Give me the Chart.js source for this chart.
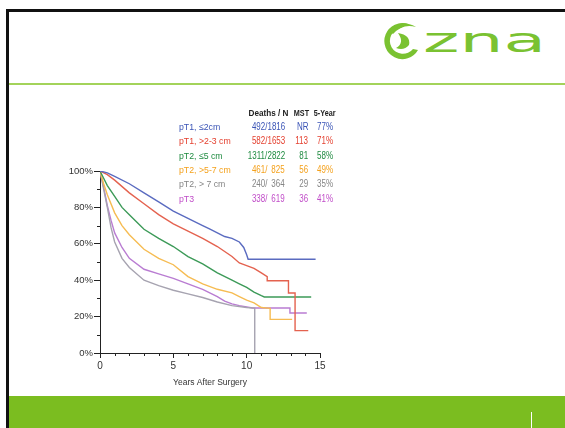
<!DOCTYPE html>
<html>
<head>
<meta charset="utf-8">
<script src="https://cdn.jsdelivr.net/npm/chart.js@4.4.1/dist/chart.umd.min.js"></script>
<style>
    body { margin: 0; background: #fff; }
    #slide { position: relative; width: 565px; height: 428px; overflow: hidden; background: #fff; font-family: "Liberation Sans Narrow", "Liberation Sans", Arial, sans-serif; }
    .borderLeft { position: absolute; left: 6px; top: 9px; width: 3px; height: 419px; background: #111; }
    .borderTop { position: absolute; left: 6px; top: 9px; width: 559px; height: 3px; background: #111; }
    .headLine { position: absolute; left: 9px; top: 83px; width: 556px; height: 2px; background: #a3d35a; }
    .footer { position: absolute; left: 9px; top: 396px; width: 556px; height: 32px; background: #7bbd20; }
    .footer .mark { position: absolute; left: 522px; top: 16px; width: 1px; height: 16px; background: #fff; }
    #logo { position: absolute; left: 370px; top: 14px; }
    #chartBox { position: absolute; left: 40px; top: 160px; width: 300px; height: 236px; }
    #table { position: absolute; left: 0; top: 0; width: 565px; height: 428px; font-size: 10px; pointer-events: none; }
    #table div { position: absolute; white-space: nowrap; line-height: 10px; transform: scaleX(0.8); transform-origin: left center; }
    #table div.r { transform-origin: right center; }
    #table div.lbl { transform: scaleX(0.92); font-size: 9.5px; }
    #table div.head { font-weight: bold; color: #222; font-size: 9.5px; transform: scaleX(0.76); }
    #table div.head.wide { transform: scaleX(0.86); }
</style>
</head>
<body>
<div id="slide">
    <div class="borderLeft"></div>
    <div class="borderTop"></div>
    <div class="headLine"></div>
    <svg id="logo" width="190" height="56" viewBox="370 14 190 56">
        <!-- 图标 -->
        <path d="M 408 24 A 18 18 0 1 0 418 50 L 413 49 A 13 13 0 1 1 401 28 Q 404 25 408 24 Z" fill="#7ac231"/>
        <path d="M 389 31 Q 400 18 416 27 Q 403 23 393 34 Z" fill="#7ac231"/>
        <path d="M 398 33 Q 411 35 409 45 Q 404 51 396 48 Q 405 43 398 33 Z" fill="#7ac231"/>
        <text x="423" y="52" textLength="123" lengthAdjust="spacingAndGlyphs" font-family="DejaVu Sans" font-size="33" fill="#7ac231">zna</text>
    </svg>
    <div id="chartBox"><canvas id="survivalChart"></canvas></div>
    <div id="table"></div>
    <div class="footer"><div class="mark"></div></div>
</div>
<script>
// 分组与表格数据
const groups = ['pT1, ≤2cm', 'pT1, >2-3 cm', 'pT2, ≤5 cm', 'pT2, >5-7 cm', 'pT2, > 7 cm', 'pT3'];
const deaths = [492, 582, 1311, 461, 240, 338];
const patients = [1816, 1653, 2822, 825, 364, 619];
const mst = ['NR', '113', '81', '56', '29', '36'];
const fiveYear = ['77%', '71%', '58%', '49%', '35%', '41%'];
const textColors = ['#3a54b6', '#e4402f', '#1f8b40', '#f4a11c', '#858585', '#c04cc8'];
const lineColors = ['#5a6bc0', '#e4624f', '#3c9a58', '#f6bc52', '#a6a3b0', '#b97cd2'];

// 生存曲线 (年, %)
const t1SmallYears = [0, 0.5, 1, 2, 3, 4, 5, 6, 7, 7.5, 8, 8.5, 9, 9.5, 9.8, 10, 10.1, 14.7];
const t1SmallSurv = [100, 99, 97, 93, 88, 83, 78, 74, 70, 68, 66, 64, 63, 61, 58, 54, 51.5, 51.5];
const t1LargeYears = [0, 0.5, 1, 2, 3, 4, 5, 6, 7, 8, 9, 9.5, 10, 10.5, 11, 11.4, 11.4, 12.85, 12.85, 13.3, 13.3, 14.2];
const t1LargeSurv = [100, 98, 95, 88, 82, 76, 71, 67, 63, 58.5, 53, 49.5, 48, 46.5, 44, 42, 39.7, 39.7, 33, 33, 12.3, 12.3];
const t2SmallYears = [0, 0.25, 0.5, 1, 1.5, 2, 2.5, 3, 4, 5, 6, 7, 7.5, 8, 9, 9.5, 10, 10.5, 11, 11.2, 14.4];
const t2SmallSurv = [100, 96, 92, 86, 80, 76, 72, 68, 63, 58.5, 53, 49, 46.5, 44, 40, 38, 36, 33.5, 31.5, 30.8, 30.8];
const t2MidYears = [0, 0.25, 0.5, 1, 1.5, 2, 3, 4, 5, 6, 7, 8, 9, 9.5, 10, 10.5, 11, 11.6, 11.6, 13.1];
const t2MidSurv = [100, 93, 87, 77, 70, 65, 57, 52, 48.5, 42, 38, 35, 33, 31, 29, 27.5, 25, 24.5, 18.5, 18.5];
const t2LargeYears = [0, 0.25, 0.5, 0.75, 1, 1.5, 2, 3, 4, 5, 6, 7, 8, 9, 10, 10.55, 10.55];
const t2LargeSurv = [100, 90, 80, 69, 61, 52, 47, 40, 37, 34.5, 32.5, 30.5, 28, 26, 25, 24.7, 0];
const t3Years = [0, 0.25, 0.5, 0.75, 1, 1.5, 2, 3, 4, 5, 6, 7, 8, 8.5, 9, 9.5, 10.4, 12.95, 12.95, 14.1];
const t3Surv = [100, 91, 81, 73, 66, 58, 52, 46, 43.5, 41, 38, 35, 31, 28.5, 27, 26, 24.7, 24.7, 22, 22];

const curveYears = [t1SmallYears, t1LargeYears, t2SmallYears, t2MidYears, t2LargeYears, t3Years];
const curveSurv = [t1SmallSurv, t1LargeSurv, t2SmallSurv, t2MidSurv, t2LargeSurv, t3Surv];

// 表格
function buildTable() {
    const table = document.getElementById('table');
    const add = (text, left, top, cls, color, right) => {
        const d = document.createElement('div');
        d.textContent = text;
        d.className = (cls || '') + (right ? ' r' : '');
        d.style.top = top + 'px';
        if (right) { d.style.right = (565 - left) + 'px'; } else { d.style.left = left + 'px'; }
        if (color) d.style.color = color;
        table.appendChild(d);
    };
    add('Deaths / N', 288, 108, 'head wide', null, true);
    add('MST', 309, 108, 'head', null, true);
    add('5-Year', 336, 108, 'head', null, true);
    groups.forEach((g, i) => {
        const top = 122 + i * 14.3;
        add(g, 179, top, 'lbl', textColors[i]);
        add(deaths[i] + '/', 267, top, '', textColors[i], true);
        add(String(patients[i]), 285, top, '', textColors[i], true);
        add(mst[i], 308, top, '', textColors[i], true);
        add(fiveYear[i], 333, top, '', textColors[i], true);
    });
}

// 次刻度
const minorTicks = {
    id: 'minorTicks',
    afterDraw(chart) {
        const ctx = chart.ctx;
        const x = chart.scales.x, y = chart.scales.y;
        ctx.save();
        ctx.strokeStyle = '#222';
        ctx.lineWidth = 1;
        ctx.beginPath();
        for (let v = 10; v < 100; v += 20) {
            const py = Math.round(y.getPixelForValue(v)) + 0.5;
            ctx.moveTo(x.left - 3, py);
            ctx.lineTo(x.left, py);
        }
        for (let v = 1; v < 15; v++) {
            if (v % 5 === 0) continue;
            const px = Math.round(x.getPixelForValue(v)) + 0.5;
            ctx.moveTo(px, y.bottom);
            ctx.lineTo(px, y.bottom + 3);
        }
        ctx.stroke();
        ctx.restore();
    }
};

const axisFont = { family: '"Liberation Sans Narrow", "Liberation Sans", Arial', size: 10 };

new Chart(document.getElementById('survivalChart'), {
    type: 'line',
    data: {
        datasets: groups.map((g, i) => ({
            label: g,
            data: curveYears[i].map((t, k) => ({ x: t, y: curveSurv[i][k] })),
            borderColor: lineColors[i],
            borderWidth: 1.4,
            pointRadius: 0,
            tension: 0,
            fill: false
        }))
    },
    options: {
        responsive: true,
        maintainAspectRatio: false,
        animation: false,
        layout: { padding: { top: 11, right: 20, left: 0, bottom: 8 } },
        plugins: { legend: { display: false }, tooltip: { enabled: false } },
        scales: {
            x: {
                type: 'linear',
                min: 0,
                max: 15,
                afterFit: s => { s.height = 35; },
                border: { display: true, color: '#222', width: 1 },
                grid: { drawOnChartArea: false, drawTicks: true, tickLength: 5, color: '#222' },
                ticks: { stepSize: 5, padding: 2, color: '#333', font: axisFont, maxRotation: 0 },
                title: { display: true, text: 'Years After Surgery', color: '#333', font: { family: axisFont.family, size: 8.5 }, padding: { top: 2, bottom: 0 } }
            },
            y: {
                min: 0,
                max: 100,
                afterFit: s => { s.width = 60; },
                border: { display: true, color: '#222', width: 1 },
                grid: { drawOnChartArea: false, drawTicks: true, tickLength: 6, color: '#222' },
                ticks: { stepSize: 20, padding: 1, color: '#333', font: { family: axisFont.family, size: 9.5 }, callback: v => v + '%' }
            }
        }
    },
    plugins: [minorTicks]
});

buildTable();
</script>
</body>
</html>
